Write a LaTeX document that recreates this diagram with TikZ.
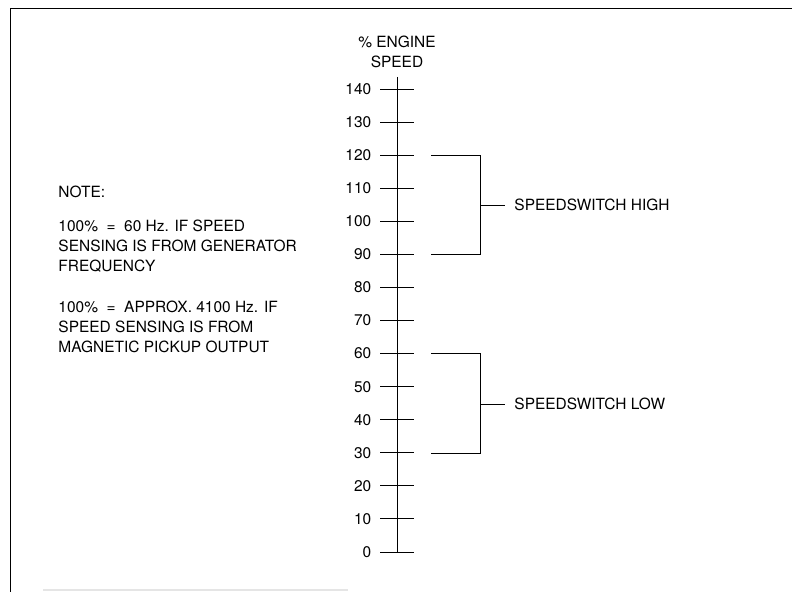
\documentclass[tikz,border=0pt]{standalone}
\usepackage{fontspec}
\setmainfont{TeX Gyre Heros}
\usetikzlibrary{positioning}

\begin{document}
\begin{tikzpicture}[x=0.75pt, y=-0.75pt, line width=0.7pt,
    every node/.style={font=\fontsize{11.6}{15}\selectfont, inner sep=0pt}]
    \useasboundingbox (0,0) rectangle (792,592);
    % frame
    \draw (10,592) -- (10,8) -- (792,8);
    \draw[gray!20, line width=1.5pt] (43,590) -- (348,590);
    % scale
    \node[align=center] (title) at (397,52) {\% ENGINE\\SPEED};
    \coordinate (top) at (397,77);
    \foreach \v [count=\i from 0] in {0,10,...,140} {
        \coordinate (t\v) at (397,{552-\i*33.07});
        \node (n\v) [left=19pt of t\v] {\v};
        \draw (t\v) ++(-17,0) -- ++(34,0);
    }
    \draw (top) -- (t0);
    % switches
    \node (hi) [anchor=west] at (514,205) {SPEEDSWITCH HIGH};
    \node (lo) [anchor=west] at (514,404) {SPEEDSWITCH LOW};
    \draw (t120) ++(34,0) -| (480,254) -- ++(-49,0);
    \draw (t60) ++(34,0) -| (480,453) -- ++(-49,0);
    \draw (480,205) -- ([xshift=-7pt]hi.west);
    \draw (480,404) -- ([xshift=-7pt]lo.west);
    % note
    \node (note) [anchor=north west, align=left] at (58,185)
        {NOTE:\\[10.5pt]
         100\% \ =\ \ 60 Hz. IF SPEED\\
         SENSING IS FROM GENERATOR\\
         FREQUENCY\\[15.75pt]
         100\% \ =\ \ APPROX. 4100 Hz. IF\\
         SPEED SENSING IS FROM\\
         MAGNETIC PICKUP OUTPUT};
\end{tikzpicture}
\end{document}
